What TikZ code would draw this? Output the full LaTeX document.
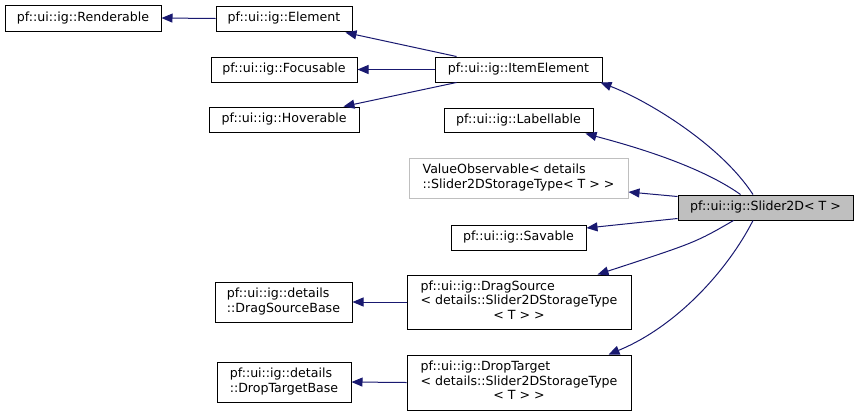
\documentclass[tikz,border=0pt]{standalone}
\usepackage{fontspec}
\setmainfont{DejaVu Sans}
\usetikzlibrary{arrows.meta}
\definecolor{edgec}{HTML}{191970}
\definecolor{grayb}{HTML}{BFBFBF}
\begin{document}
\begin{tikzpicture}[x=1pt,y=-1pt,
  box/.style={draw=black,line width=1pt,inner sep=0pt,minimum width=#1,font=\fontsize{12.6}{14.5}\selectfont,align=left},
  edge/.style={draw=edgec,line width=1pt,-{Triangle[length=11pt,width=9pt]}}]
\useasboundingbox (0,0) rectangle (859,416);
\node[box=156,minimum height=26] (R) at (83,18) {pf::ui::ig::Renderable};
\node[box=136,minimum height=25] (E) at (284,18.5) {pf::ui::ig::Element};
\node[box=146,minimum height=25] (F) at (284,69.5) {pf::ui::ig::Focusable};
\node[box=150,minimum height=25] (H) at (284,119.5) {pf::ui::ig::Hoverable};
\node[box=167,minimum height=25] (I) at (518.5,69.5) {pf::ui::ig::ItemElement};
\node[box=149,minimum height=24] (L) at (518.5,120) {pf::ui::ig::Labellable};
\node[box=219,minimum height=40,draw=grayb] (V) at (518.5,178) {\begin{tabular}{@{}l@{}}ValueObservable< details\\::Slider2DStorageType< T > >\end{tabular}};
\node[box=175,minimum height=25,fill=grayb] (S) at (765.5,207.5) {pf::ui::ig::Slider2D< T >};
\node[box=135,minimum height=25] (Sv) at (518.5,237.5) {pf::ui::ig::Savable};
\node[box=224,minimum height=54] (DS) at (519,302) {\begin{tabular}{@{}l@{}}pf::ui::ig::DragSource\\< details::Slider2DStorageType\\\multicolumn{1}{@{}c@{}}{< T > >}\end{tabular}};
\node[box=137,minimum height=40] (DSB) at (283.5,302) {\begin{tabular}{@{}l@{}}pf::ui::ig::details\\::DragSourceBase\end{tabular}};
\node[box=224,minimum height=55] (DT) at (519,382.5) {\begin{tabular}{@{}l@{}}pf::ui::ig::DropTarget\\< details::Slider2DStorageType\\\multicolumn{1}{@{}c@{}}{< T > >}\end{tabular}};
\node[box=134,minimum height=40] (DTB) at (284,382) {\begin{tabular}{@{}l@{}}pf::ui::ig::details\\::DropTargetBase\end{tabular}};
% edges
\draw[edge] (E.west) -- (R.east);
\draw[edge] ([xshift=22]I.north west) -- ([xshift=-7,yshift=-1]E.south east);
\draw[edge] (I.west) -- (F.east);
\draw[edge] ([xshift=22]I.south west) -- ([xshift=-16]H.north east);
\draw[edge] ([xshift=-12.5]S.north) .. controls ([xshift=-45,yshift=50]S.north) and ([xshift=45,yshift=-18]I.south east) .. ([xshift=-2]I.south east);
\draw[edge] ([xshift=-25]S.north) .. controls ([xshift=-70,yshift=32]S.north) and ([xshift=25,yshift=-10]L.south east) .. ([xshift=-8,yshift=-1]L.south east);
\draw[edge] ([yshift=-2]S.north west) -- ([yshift=-14]V.east);
\draw[edge] ([yshift=2]S.south west) -- ([yshift=9.5]Sv.east);
\draw[edge] ([xshift=-32]S.south) .. controls ([xshift=-70,yshift=-22]S.south) .. ([xshift=-34]DS.north east);
\draw[edge] ([xshift=-12.5]S.south) .. controls ([xshift=-38,yshift=-50]S.south) and ([xshift=45,yshift=28]DT.north east) .. ([xshift=-23]DT.north east);
\draw[edge] (DS.west) -- (DSB.east);
\draw[edge] (DT.west) -- (DTB.east);
\end{tikzpicture}
\end{document}
